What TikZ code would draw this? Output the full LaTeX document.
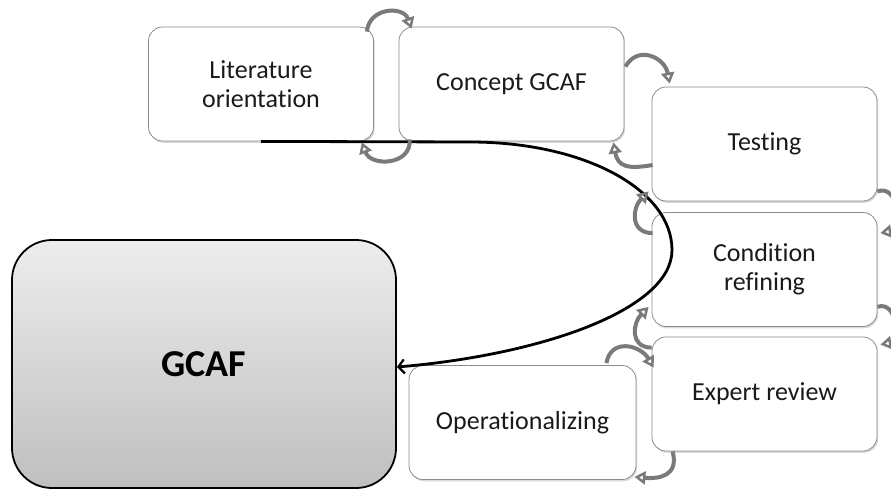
\documentclass[tikz,border=0pt]{standalone}
\usepackage{fontspec}
\setmainfont{Carlito}[Ligatures={NoCommon}]
\usetikzlibrary{arrows.meta,shadows,calc}
\definecolor{boxline}{HTML}{8C8C8C}
\definecolor{loopgray}{HTML}{7A7A7A}
\definecolor{ink}{HTML}{1A1A1A}
\tikzset{
  stepbox/.style={draw=boxline, line width=0.8pt, fill=white, rounded corners=14pt,
    minimum width=225pt, minimum height=114pt, align=center, text=ink,
    font=\fontsize{26}{29}\selectfont,
    drop shadow={shadow xshift=1.2pt, shadow yshift=-1.8pt, opacity=0.25, fill=black!60}},
  mainbox/.style={draw=black, line width=1.8pt, rounded corners=40pt,
    top color=black!7, bottom color=black!25,
    minimum width=384pt, minimum height=248pt, text=black,
    font=\fontsize{38}{42}\selectfont\bfseries},
  iterarrow/.style={draw=loopgray, line width=4pt, looseness=1.4,
    -{Triangle[open, length=11pt, width=13pt, line width=2.5pt]}},
  flow/.style={draw=black, line width=2.8pt, -{Straight Barb[length=6pt, width=14pt, line width=2.2pt]}}
}
\begin{document}
\begin{tikzpicture}[x=1pt, y=1pt]
\useasboundingbox (0,0) rectangle (891,-490);

% framework result
\node[mainbox] (gcaf) at (204,-364) {GCAF};

% development steps
\node[stepbox] (lit)  at (261,-84)   {Literature\\orientation};
\node[stepbox] (con)  at (511.5,-84) {Concept GCAF};
\node[stepbox] (test) at (764.5,-144) {Testing};
\node[stepbox] (cond) at (764.5,-269.5) {Condition\\refining};
\node[stepbox] (exp)  at (764.5,-394) {Expert review};
\node[stepbox, minimum width=227pt] (ops) at (522.5,-422.5) {Operationalizing};

% overall route back to the framework
\draw[flow] (lit.south) -- (470,-142)
  .. controls (585,-142) and (672,-190) .. (672,-250)
  .. controls (672,-310) and (540,-355) .. ([yshift=-3pt]gcaf.east);

% iteration loops between neighbouring steps
\draw[iterarrow] ($(lit.north east)+(-7,-5)$) to[out=85, in=110] ($(con.north west)+(13,-2)$);
\draw[iterarrow] ($(con.south west)+(11,2)$) to[out=-85, in=-70] ($(lit.south east)+(-12,-1)$);
\draw[iterarrow] ($(con.north east)+(1,-40)$) to[out=60, in=100] ($(test.north west)+(18,3)$);
\draw[iterarrow] ($(test.west)+(1,-21)$) to[out=190, in=-80] ($(con.south east)+(-11,-1)$);
\draw[iterarrow] ($(cond.north west)+(1,-21)$) to[out=180, in=-135] ($(test.south west)+(-3,10)$);
\draw[iterarrow] ($(test.south east)+(0,10)$) to[out=20, in=10] ($(cond.north east)+(3,-21)$);
\draw[iterarrow] ($(cond.south east)+(0,20)$) to[out=20, in=10] ($(exp.north east)+(3,-8)$);
\draw[iterarrow] ($(exp.north west)+(0,-11)$) to[out=180, in=-135] ($(cond.south west)+(-3,20)$);
\draw[iterarrow] ($(ops.north east)+(-30,2)$) to[out=80, in=120] ($(exp.north west)+(2,-31)$);
\draw[iterarrow] ($(exp.south west)+(21,0)$) to[out=-75, in=-5] ($(ops.south east)+(-2,3)$);
\end{tikzpicture}
\end{document}
